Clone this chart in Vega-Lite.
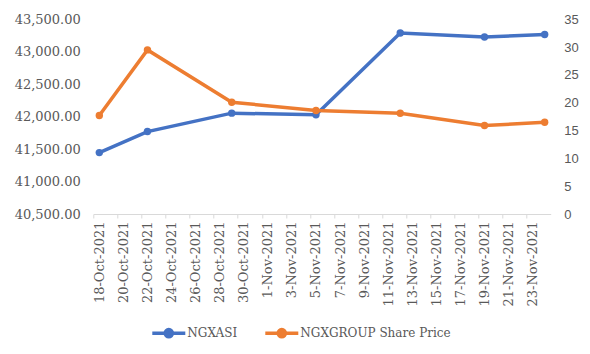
{
  "$schema": "https://vega.github.io/schema/vega-lite/v6.json",
  "width": 457.4,
  "height": 194.7,
  "autosize": "none",
  "padding": {"left": 93.3, "top": 19.3, "right": 39.3, "bottom": 140},
  "background": "#ffffff",
  "data": {
    "values": [
      {"date": "2021-10-18", "NGXASI": 41446, "NGXGROUP": 17.7},
      {"date": "2021-10-22", "NGXASI": 41770, "NGXGROUP": 29.5},
      {"date": "2021-10-29", "NGXASI": 42054, "NGXGROUP": 20.1},
      {"date": "2021-11-05", "NGXASI": 42028, "NGXGROUP": 18.6},
      {"date": "2021-11-12", "NGXASI": 43289, "NGXGROUP": 18.1},
      {"date": "2021-11-19", "NGXASI": 43227, "NGXGROUP": 15.9},
      {"date": "2021-11-24", "NGXASI": 43267, "NGXGROUP": 16.5}
    ]
  },
  "encoding": {
    "x": {
      "field": "date",
      "type": "temporal",
      "title": null,
      "scale": {
        "type": "utc",
        "domain": [
          {"year": 2021, "month": 10, "date": 17, "hours": 12, "utc": true},
          {"year": 2021, "month": 11, "date": 24, "hours": 12, "utc": true}
        ]
      },
      "axis": {
        "values": [
          {"year": 2021, "month": 10, "date": 18, "utc": true},
          {"year": 2021, "month": 10, "date": 20, "utc": true},
          {"year": 2021, "month": 10, "date": 22, "utc": true},
          {"year": 2021, "month": 10, "date": 24, "utc": true},
          {"year": 2021, "month": 10, "date": 26, "utc": true},
          {"year": 2021, "month": 10, "date": 28, "utc": true},
          {"year": 2021, "month": 10, "date": 30, "utc": true},
          {"year": 2021, "month": 11, "date": 1, "utc": true},
          {"year": 2021, "month": 11, "date": 3, "utc": true},
          {"year": 2021, "month": 11, "date": 5, "utc": true},
          {"year": 2021, "month": 11, "date": 7, "utc": true},
          {"year": 2021, "month": 11, "date": 9, "utc": true},
          {"year": 2021, "month": 11, "date": 11, "utc": true},
          {"year": 2021, "month": 11, "date": 13, "utc": true},
          {"year": 2021, "month": 11, "date": 15, "utc": true},
          {"year": 2021, "month": 11, "date": 17, "utc": true},
          {"year": 2021, "month": 11, "date": 19, "utc": true},
          {"year": 2021, "month": 11, "date": 21, "utc": true},
          {"year": 2021, "month": 11, "date": 23, "utc": true},
          {"year": 2021, "month": 11, "date": 25, "utc": true}
        ],
        "labelExpr": "utcdate(datum.value) == 25 && utcmonth(datum.value) == 10 ? '' : utcFormat(datum.value, '%-d-%b-%Y')",
        "labelAngle": -90,
        "labelOverlap": false,
        "labelFlush": false,
        "labelBound": false,
        "tickOffset": -6.02,
        "labelOffset": 6.02,
        "tickSize": 4,
        "tickColor": "#D9D9D9",
        "domainColor": "#D9D9D9",
        "domainWidth": 1,
        "labelPadding": 3,
        "labelFont": "DejaVu Serif",
        "labelFontSize": 13,
        "labelColor": "#595959",
        "grid": false
      }
    }
  },
  "layer": [
    {
      "mark": {"type": "line", "strokeWidth": 3.5, "point": {"size": 55, "filled": true, "opacity": 1}},
      "encoding": {
        "y": {
          "field": "NGXASI",
          "type": "quantitative",
          "title": null,
          "scale": {"domain": [40500, 43500], "nice": false, "zero": false},
          "axis": {
            "orient": "left",
            "values": [40500, 41000, 41500, 42000, 42500, 43000, 43500],
            "format": ",.2f",
            "domain": false,
            "ticks": false,
            "grid": false,
            "labelPadding": 13,
            "labelFont": "DejaVu Serif",
            "labelFontSize": 13,
            "labelColor": "#595959"
          }
        },
        "color": {
          "datum": "NGXASI",
          "type": "nominal",
          "scale": {"domain": ["NGXASI", "NGXGROUP Share Price"], "range": ["#4472C4", "#ED7D31"]},
          "legend": {
            "title": null,
            "orient": "none",
            "direction": "horizontal",
            "legendX": 57,
            "legendY": 295,
            "symbolType": "M-1,0H1M-0.22,0A0.22,0.22,0,1,1,0.22,0A0.22,0.22,0,1,1,-0.22,0Z",
            "symbolSize": 1089,
            "symbolStrokeWidth": 3.5,
            "labelFont": "DejaVu Serif",
            "labelFontSize": 12,
            "labelColor": "#595959",
            "labelOffset": 0,
            "columnPadding": 21,
            "encode": {
              "symbols": {
                "update": {
                  "fill": {"scale": "color", "field": "value"},
                  "stroke": {"scale": "color", "field": "value"}
                }
              },
              "labels": {
                "update": {
                  "font": {"value": "DejaVu Serif"},
                  "fontSize": {"value": 12},
                  "fill": {"value": "#595959"}
                }
              }
            }
          }
        }
      }
    },
    {
      "mark": {"type": "line", "strokeWidth": 3.5, "point": {"size": 55, "filled": true, "opacity": 1}},
      "encoding": {
        "y": {
          "field": "NGXGROUP",
          "type": "quantitative",
          "title": null,
          "scale": {"domain": [0, 35], "nice": false},
          "axis": {
            "orient": "right",
            "values": [0, 5, 10, 15, 20, 25, 30, 35],
            "domain": false,
            "ticks": false,
            "grid": false,
            "labelPadding": 13,
            "labelFont": "Liberation Sans",
            "labelFontSize": 13,
            "labelColor": "#595959"
          }
        },
        "color": {"datum": "NGXGROUP Share Price", "type": "nominal"}
      }
    }
  ],
  "resolve": {"scale": {"y": "independent"}},
  "config": {
    "view": {"stroke": null},
    "legend": {"labelFont": "DejaVu Serif", "labelFontSize": 12, "labelColor": "#595959"}
  }
}
